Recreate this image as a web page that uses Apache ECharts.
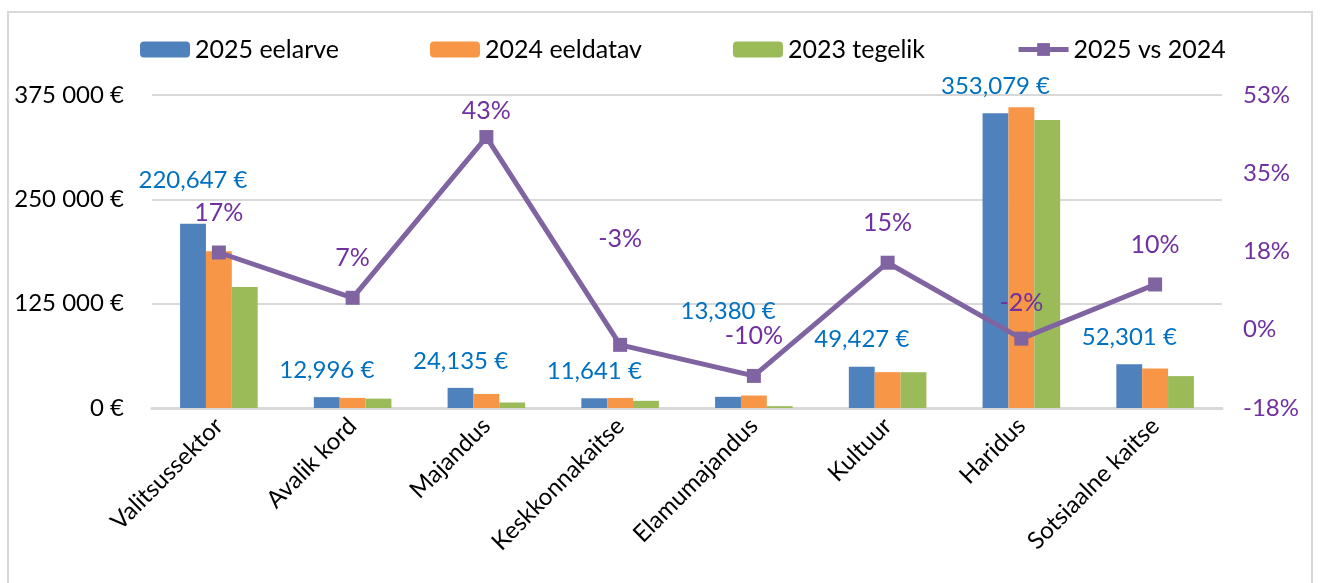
<!DOCTYPE html>
<html lang="et">
<head>
    <meta charset="UTF-8">
    <script src="https://cdn.jsdelivr.net/npm/echarts@6/dist/echarts.min.js"></script>
    <style>
        html, body { margin: 0; padding: 0; background: #fff; }
        #chart { width: 1320px; height: 583px; }
    </style>
</head>
<body>
<div id="chart"></div>
<script>
    // andmed
    var categories = ["Valitsussektor", "Avalik kord", "Majandus", "Keskkonnakaitse", "Elamumajandus", "Kultuur", "Haridus", "Sotsiaalne kaitse"];
    var budget2025 = [220647, 12996, 24135, 11641, 13380, 49427, 353079, 52301];
    var expected2024 = [187900, 12100, 16850, 12050, 14930, 42950, 360400, 47450];
    var actual2023 = [144900, 11200, 6600, 8600, 2200, 42900, 345000, 38200];
    var change2025vs2024 = [0.174, 0.072, 0.434, -0.034, -0.104, 0.151, -0.02, 0.102];
    var seriesNames = ["2025 eelarve", "2024 eeldatav", "2023 tegelik", "2025 vs 2024"];

    // siltide kaugus (px) tulba / punkti kohal
    var barLabelGap = [32, 15, 15, 15, 74, 15, 15, 15];
    var lineLabelGap = [20, 20, 7, 86, 20, 20, 16, 20];

    var font = 'Lato, "Open Sans", sans-serif';

    function euroSpace(v) {
        return String(v).replace(/\B(?=(\d{3})+(?!\d))/g, ' ') + ' €';
    }
    function euroComma(v) {
        return String(v).replace(/\B(?=(\d{3})+(?!\d))/g, ',') + ' €';
    }

    var myChart = echarts.init(document.getElementById('chart'));
    var option = {
        backgroundColor: '#fff',
        animation: false,
        graphic: [{
            type: 'rect',
            shape: { x: 8, y: 12, width: 1304, height: 590 },
            style: { fill: 'none', stroke: '#d9d9d9', lineWidth: 2 }
        }],
        legend: {
            top: 32,
            left: 135,
            itemWidth: 50,
            itemHeight: 16,
            itemGap: 91,
            textStyle: { fontFamily: font, fontSize: 25, color: '#000' },
            data: [seriesNames[0], seriesNames[1], seriesNames[2],
                { name: seriesNames[3], lineStyle: { width: 5 } }]
        },
        grid: { left: 152, right: 98, top: 95, bottom: 175 },
        xAxis: {
            type: 'category',
            data: categories,
            axisLine: { lineStyle: { color: '#d9d9d9', width: 3 } },
            axisTick: { show: false },
            axisLabel: {
                rotate: 45,
                margin: 14,
                interval: 0,
                fontFamily: font,
                fontSize: 24,
                color: '#000'
            }
        },
        yAxis: [{
            type: 'value',
            min: 0,
            max: 375000,
            interval: 125000,
            axisLine: { show: false },
            axisTick: { show: false },
            splitLine: { lineStyle: { color: '#d9d9d9', width: 2 } },
            axisLabel: {
                margin: 28,
                fontFamily: font,
                fontSize: 24,
                color: '#000',
                formatter: euroSpace
            }
        }, {
            type: 'value',
            min: -0.17625,
            max: 0.52875,
            interval: 0.17625,
            axisLine: { show: false },
            axisTick: { show: false },
            splitLine: { show: false },
            axisLabel: {
                margin: 21,
                fontFamily: font,
                fontSize: 24,
                color: '#7030a0',
                formatter: function (v) { return Math.round(v * 100) + '%'; }
            }
        }],
        series: [{
            name: seriesNames[0],
            type: 'bar',
            barGap: '0%',
            barCategoryGap: '42%',
            itemStyle: { color: '#4f81bd' },
            data: budget2025.map(function (v, i) {
                return {
                    value: v,
                    label: {
                        show: true,
                        position: 'top',
                        distance: barLabelGap[i],
                        fontFamily: font,
                        fontSize: 24,
                        color: '#0070c0',
                        formatter: function (p) { return euroComma(p.value); }
                    }
                };
            })
        }, {
            name: seriesNames[1],
            type: 'bar',
            itemStyle: { color: '#f79646' },
            data: expected2024
        }, {
            name: seriesNames[2],
            type: 'bar',
            itemStyle: { color: '#9bbb59' },
            data: actual2023
        }, {
            name: seriesNames[3],
            type: 'line',
            yAxisIndex: 1,
            z: 5,
            symbol: 'rect',
            symbolSize: 14,
            lineStyle: { color: '#8064a2', width: 5 },
            itemStyle: { color: '#8064a2' },
            data: change2025vs2024.map(function (v, i) {
                return {
                    value: v,
                    label: {
                        show: true,
                        position: 'top',
                        distance: lineLabelGap[i],
                        fontFamily: font,
                        fontSize: 25,
                        color: '#7030a0',
                        formatter: function (p) { return Math.round(p.value * 100) + '%'; }
                    }
                };
            })
        }]
    };
    myChart.setOption(option);
</script>
</body>
</html>
